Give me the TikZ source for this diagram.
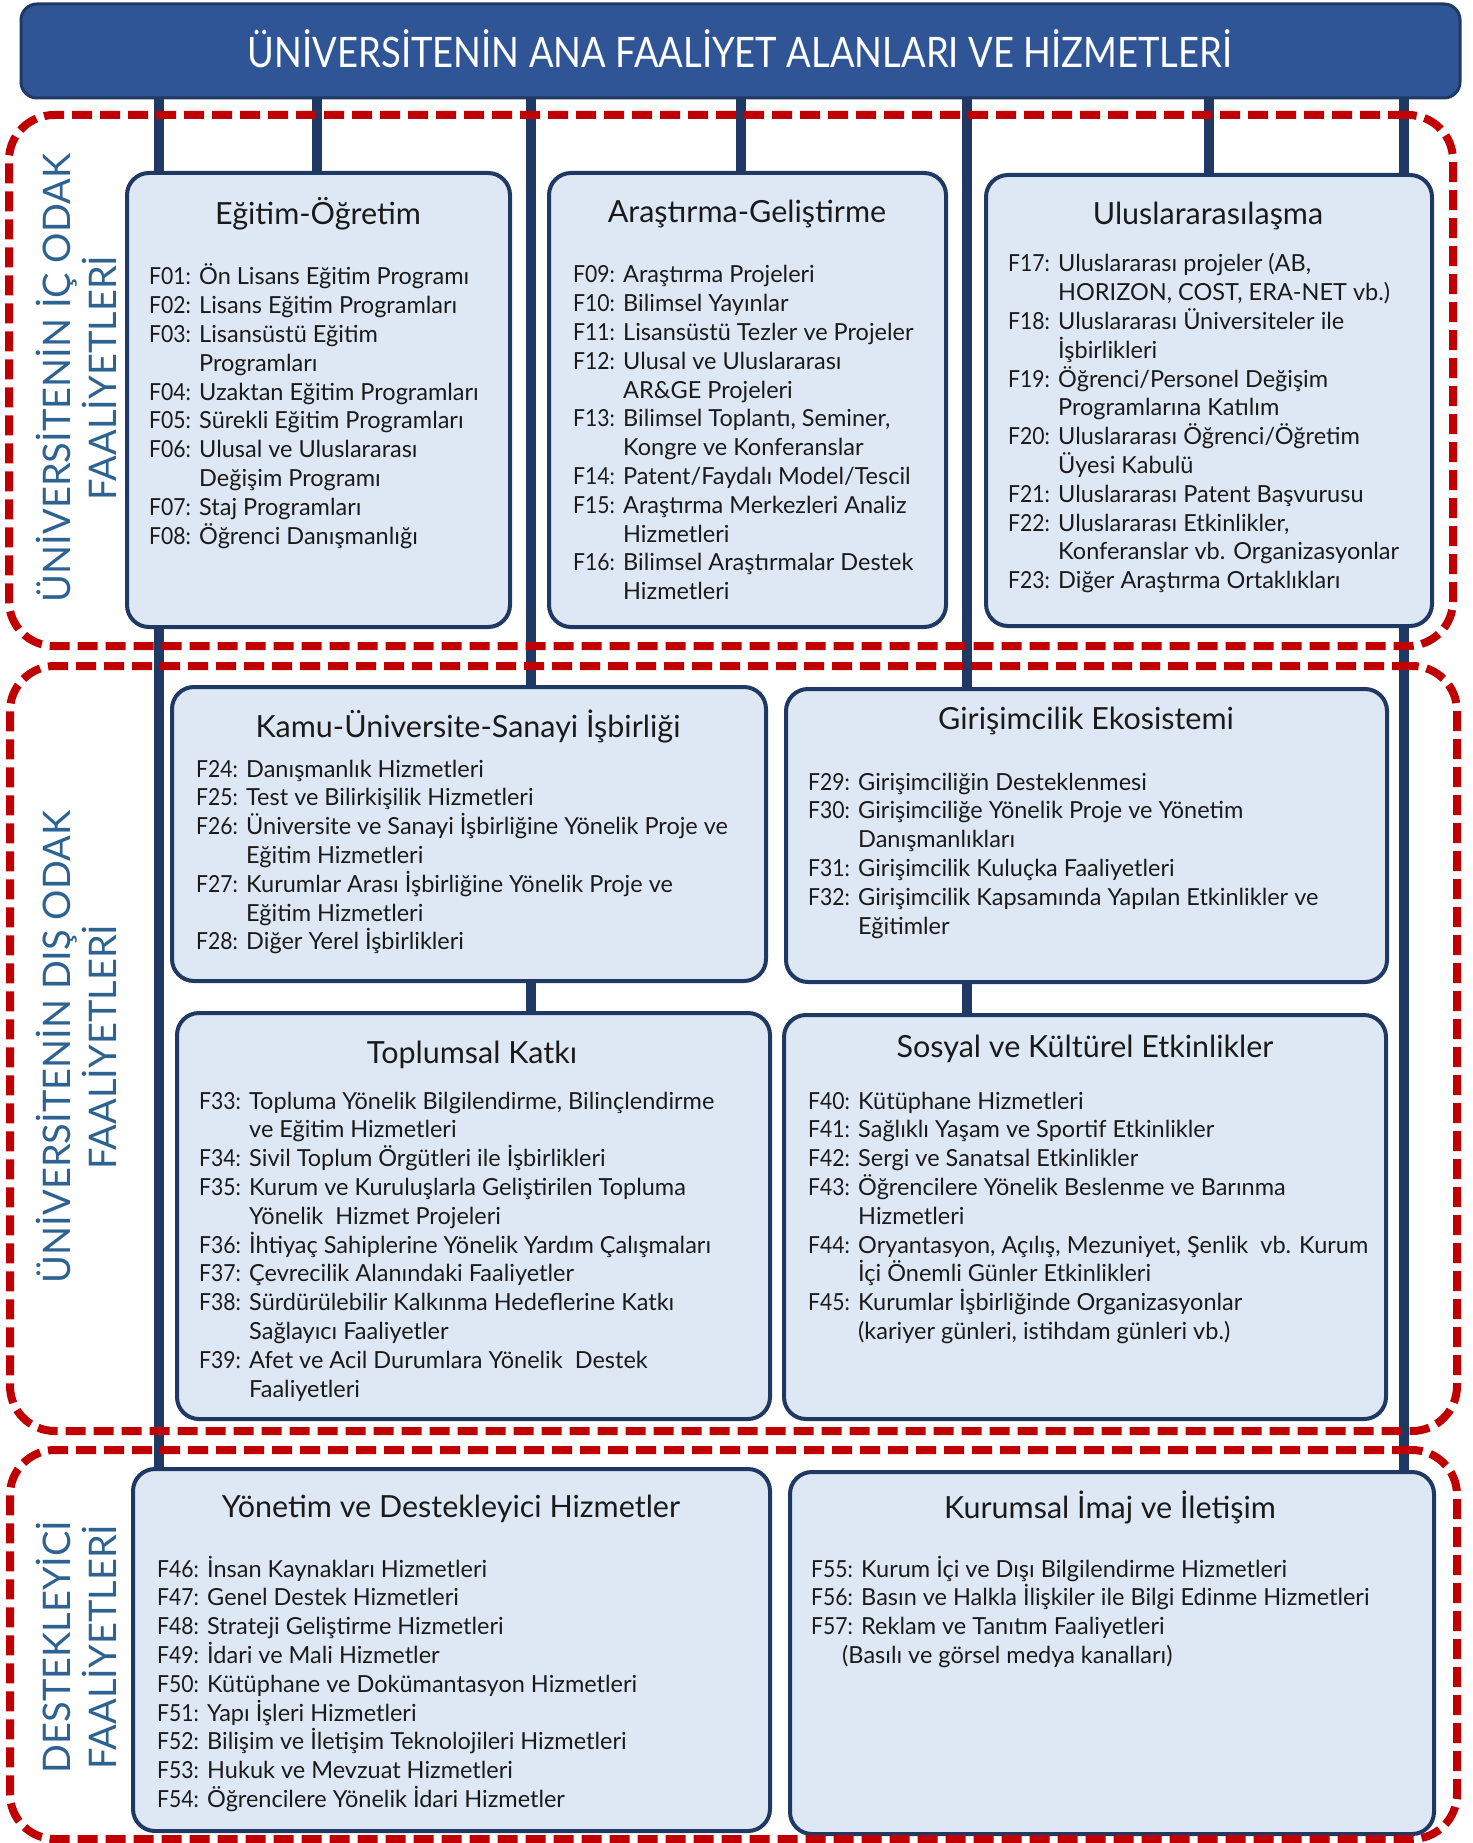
\documentclass[tikz,border=0pt]{standalone}
\usepackage{fontspec}
\setmainfont{Lato}
\definecolor{navy}{HTML}{203864}
\definecolor{boxfill}{HTML}{DEE8F5}
\definecolor{bannerblue}{HTML}{2F5597}
\definecolor{framered}{HTML}{C00000}
\definecolor{labelblue}{HTML}{2E6391}
\definecolor{txt}{HTML}{1A1A1A}
\newcommand\fitem[2]{\hbox{\makebox[50pt][l]{\scalebox{0.9}[1]{F#1:}}#2}}
\newcommand\fcont[1]{\hbox{\hspace*{50pt}#1}}
\newcommand\itemlist[1]{\vtop{\lineskiplimit=-100pt\lineskip=0pt #1}}
\newcommand\areabox[6]{\node[#1, minimum width={#5-#3}, minimum height={#6-#4}] (#2) at ({(#3+#5)/2},{(#4+#6)/2}) {};}
\begin{document}
\begin{tikzpicture}[x=1pt,y=-1pt,
  frame/.style={draw=framered, line width=8pt, dash pattern=on 20pt off 8pt, rounded corners=45pt, inner sep=0pt},
  fbox/.style={draw=navy, fill=boxfill, line width=4pt, rounded corners=22pt, inner sep=0pt},
  bannerbox/.style={draw=navy, fill=bannerblue, line width=3pt, rounded corners=16pt, inner sep=0pt},
  link/.style={draw=navy, line width=10pt},
  title/.style={anchor=base, font=\fontsize{30.5}{36}\selectfont, text=txt, inner sep=0pt},
  list/.style={anchor=base west, font=\fontsize{23.5}{28.8}\selectfont, text=txt, inner sep=0pt},
  side/.style={rotate=90, align=center, font=\fontsize{38}{46}\selectfont, text=labelblue, inner sep=0pt},
  bannertext/.style={font=\fontsize{42}{50}\selectfont, text=white, inner sep=0pt}]
\useasboundingbox (0,0) rectangle (1472,1843);
\fill[white] (0,0) rectangle (1472,1843);

% banner
\areabox{bannerbox}{banner}{21}{4}{1460}{98}
\node[bannertext] (bannerlbl) at (740,49) {\scalebox{0.867}[1]{ÜNİVERSİTENİN ANA FAALİYET ALANLARI VE HİZMETLERİ}};

% box positions (invisible, used as connector ends)
\begin{scope}[opacity=0]
\areabox{fbox}{egt}{127}{173}{510}{627}
\areabox{fbox}{arge}{549}{173}{946}{627}
\areabox{fbox}{ulus}{986}{175}{1432}{626}
\areabox{fbox}{kamu}{172}{687}{766}{981}
\areabox{fbox}{giris}{786}{689}{1387}{982}
\areabox{fbox}{topl}{177}{1013}{770}{1419}
\areabox{fbox}{sosyal}{784}{1015}{1386}{1419}
\areabox{fbox}{yon}{133}{1469}{770}{1831}
\areabox{fbox}{kurum}{790}{1472}{1434}{1834}
\end{scope}

% connector x positions
\coordinate (xA) at (159,0);
\coordinate (xB) at (317,0);
\coordinate (xC) at (531,0);
\coordinate (xD) at (741,0);
\coordinate (xE) at (967,0);
\coordinate (xF) at (1209,0);
\coordinate (xG) at (1404,0);

\draw[link] (banner.south -| xA) -- (yon.north -| xA);
\draw[link] (banner.south -| xB) -- (egt.north -| xB);
\draw[link] (banner.south -| xC) -- (topl.north -| xC);
\draw[link] (banner.south -| xD) -- (arge.north -| xD);
\draw[link] (banner.south -| xE) -- (sosyal.north -| xE);
\draw[link] (banner.south -| xF) -- (ulus.north -| xF);
\draw[link] (banner.south -| xG) -- (kurum.north -| xG);

% boxes
\areabox{fbox}{egtB}{127}{173}{510}{627}
\areabox{fbox}{argeB}{549}{173}{946}{627}
\areabox{fbox}{ulusB}{986}{175}{1432}{626}
\areabox{fbox}{kamuB}{172}{687}{766}{981}
\areabox{fbox}{girisB}{786}{689}{1387}{982}
\areabox{fbox}{toplB}{177}{1013}{770}{1419}
\areabox{fbox}{sosyalB}{784}{1015}{1386}{1419}
\areabox{fbox}{yonB}{133}{1469}{770}{1831}
\areabox{fbox}{kurumB}{790}{1472}{1434}{1834}

% group frames (drawn over the connectors)
\areabox{frame}{s1}{9}{115}{1453}{646}
\areabox{frame}{s2}{10}{666}{1457}{1431}
\areabox{frame}{s3}{10}{1450}{1457}{1839}

% side labels
\node[side] (lbl1) at (76,378) {ÜNİVERSİTENİN İÇ ODAK\\FAALİYETLERİ};
\node[side] (lbl2) at (76,1047) {ÜNİVERSİTENİN DIŞ ODAK\\FAALİYETLERİ};
\node[side] (lbl3) at (76,1647) {DESTEKLEYİCİ\\FAALİYETLERİ};

% titles
\node[title] (t1) at (318,225) {Eğitim-Öğretim};
\node[title] (t2) at (747,223) {Araştırma-Geliştirme};
\node[title] (t3) at (1208,225) {Uluslararasılaşma};
\node[title] (t4) at (468,737) {Kamu-Üniversite-Sanayi İşbirliği};
\node[title] (t5) at (1086,729) {Girişimcilik Ekosistemi};
\node[title] (t6) at (472,1063) {Toplumsal Katkı};
\node[title] (t7) at (1085,1057) {Sosyal ve Kültürel Etkinlikler};
\node[title] (t8) at (451,1517) {Yönetim ve Destekleyici Hizmetler};
\node[title] (t9) at (1110,1518) {Kurumsal İmaj ve İletişim};

% item lists
\node[list] (l1) at (149,285) {\itemlist{%
\fitem{01}{Ön Lisans Eğitim Programı}
\fitem{02}{Lisans Eğitim Programları}
\fitem{03}{Lisansüstü Eğitim}
\fcont{Programları}
\fitem{04}{Uzaktan Eğitim Programları}
\fitem{05}{Sürekli Eğitim Programları}
\fitem{06}{Ulusal ve Uluslararası}
\fcont{Değişim Programı}
\fitem{07}{Staj Programları}
\fitem{08}{Öğrenci Danışmanlığı}}};

\node[list] (l2) at (573,283) {\itemlist{%
\fitem{09}{Araştırma Projeleri}
\fitem{10}{Bilimsel Yayınlar}
\fitem{11}{Lisansüstü Tezler ve Projeler}
\fitem{12}{Ulusal ve Uluslararası}
\fcont{AR\&GE Projeleri}
\fitem{13}{Bilimsel Toplantı, Seminer,}
\fcont{Kongre ve Konferanslar}
\fitem{14}{Patent/Faydalı Model/Tescil}
\fitem{15}{Araştırma Merkezleri Analiz}
\fcont{Hizmetleri}
\fitem{16}{Bilimsel Araştırmalar Destek}
\fcont{Hizmetleri}}};

\node[list] (l3) at (1008,272) {\itemlist{%
\fitem{17}{Uluslararası projeler (AB,}
\fcont{HORIZON, COST, ERA-NET vb.)}
\fitem{18}{Uluslararası Üniversiteler ile}
\fcont{İşbirlikleri}
\fitem{19}{Öğrenci/Personel Değişim}
\fcont{Programlarına Katılım}
\fitem{20}{Uluslararası Öğrenci/Öğretim}
\fcont{Üyesi Kabulü}
\fitem{21}{Uluslararası Patent Başvurusu}
\fitem{22}{Uluslararası Etkinlikler,}
\fcont{Konferanslar vb. Organizasyonlar}
\fitem{23}{Diğer Araştırma Ortaklıkları}}};

\node[list] (l4) at (196,777) {\itemlist{%
\fitem{24}{Danışmanlık Hizmetleri}
\fitem{25}{Test ve Bilirkişilik Hizmetleri}
\fitem{26}{Üniversite ve Sanayi İşbirliğine Yönelik Proje ve}
\fcont{Eğitim Hizmetleri}
\fitem{27}{Kurumlar Arası İşbirliğine Yönelik Proje ve}
\fcont{Eğitim Hizmetleri}
\fitem{28}{Diğer Yerel İşbirlikleri}}};

\node[list] (l5) at (808,790) {\itemlist{%
\fitem{29}{Girişimciliğin Desteklenmesi}
\fitem{30}{Girişimciliğe Yönelik Proje ve Yönetim}
\fcont{Danışmanlıkları}
\fitem{31}{Girişimcilik Kuluçka Faaliyetleri}
\fitem{32}{Girişimcilik Kapsamında Yapılan Etkinlikler ve}
\fcont{Eğitimler}}};

\node[list] (l6) at (199,1109) {\itemlist{%
\fitem{33}{Topluma Yönelik Bilgilendirme, Bilinçlendirme}
\fcont{ve Eğitim Hizmetleri}
\fitem{34}{Sivil Toplum Örgütleri ile İşbirlikleri}
\fitem{35}{Kurum ve Kuruluşlarla Geliştirilen Topluma}
\fcont{Yönelik\ \ Hizmet Projeleri}
\fitem{36}{İhtiyaç Sahiplerine Yönelik Yardım Çalışmaları}
\fitem{37}{Çevrecilik Alanındaki Faaliyetler}
\fitem{38}{Sürdürülebilir Kalkınma Hedeflerine Katkı}
\fcont{Sağlayıcı Faaliyetler}
\fitem{39}{Afet ve Acil Durumlara Yönelik\ \ Destek}
\fcont{Faaliyetleri}}};

\node[list] (l7) at (808,1109) {\itemlist{%
\fitem{40}{Kütüphane Hizmetleri}
\fitem{41}{Sağlıklı Yaşam ve Sportif Etkinlikler}
\fitem{42}{Sergi ve Sanatsal Etkinlikler}
\fitem{43}{Öğrencilere Yönelik Beslenme ve Barınma}
\fcont{Hizmetleri}
\fitem{44}{Oryantasyon, Açılış, Mezuniyet, Şenlik\ \ vb. Kurum}
\fcont{İçi Önemli Günler Etkinlikleri}
\fitem{45}{Kurumlar İşbirliğinde Organizasyonlar}
\fcont{(kariyer günleri, istihdam günleri vb.)}}};

\node[list] (l8) at (157,1577) {\itemlist{%
\fitem{46}{İnsan Kaynakları Hizmetleri}
\fitem{47}{Genel Destek Hizmetleri}
\fitem{48}{Strateji Geliştirme Hizmetleri}
\fitem{49}{İdari ve Mali Hizmetler}
\fitem{50}{Kütüphane ve Dokümantasyon Hizmetleri}
\fitem{51}{Yapı İşleri Hizmetleri}
\fitem{52}{Bilişim ve İletişim Teknolojileri Hizmetleri}
\fitem{53}{Hukuk ve Mevzuat Hizmetleri}
\fitem{54}{Öğrencilere Yönelik İdari Hizmetler}}};

\node[list] (l9) at (811,1577) {\itemlist{%
\fitem{55}{Kurum İçi ve Dışı Bilgilendirme Hizmetleri}
\fitem{56}{Basın ve Halkla İlişkiler ile Bilgi Edinme Hizmetleri}
\fitem{57}{Reklam ve Tanıtım Faaliyetleri}
\hbox{\hspace*{31pt}(Basılı ve görsel medya kanalları)}}};
\end{tikzpicture}
\end{document}
